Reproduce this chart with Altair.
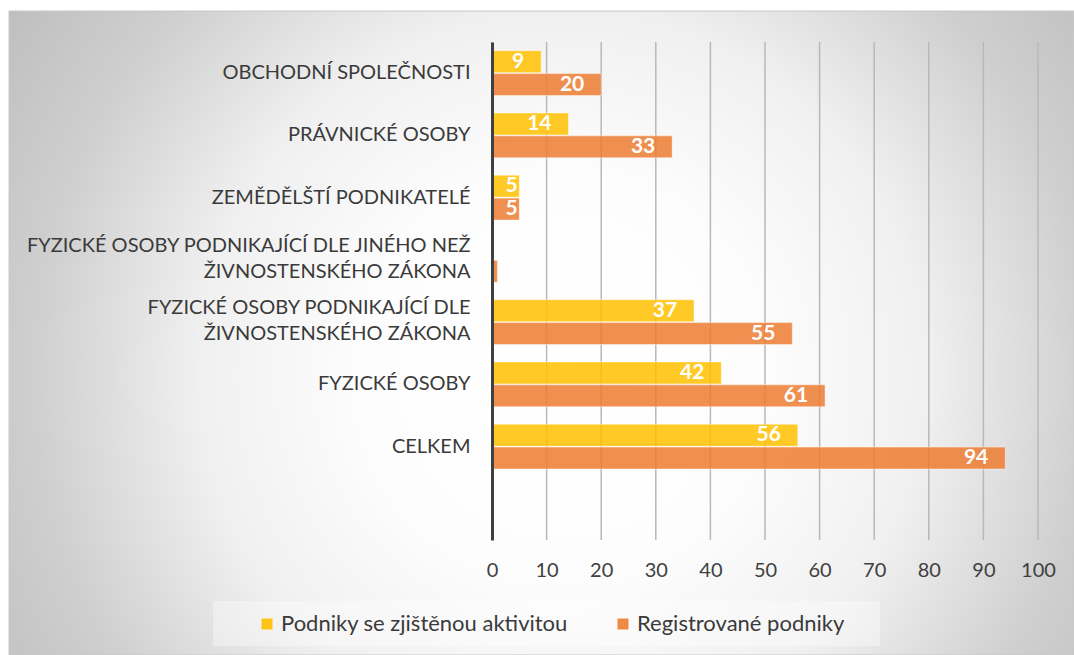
import altair as alt
import pandas as pd

# ---------------- data ----------------
categories = [
    "OBCHODNÍ SPOLEČNOSTI",
    "PRÁVNICKÉ OSOBY",
    "ZEMĚDĚLŠTÍ PODNIKATELÉ",
    "FYZICKÉ OSOBY PODNIKAJÍCÍ DLE JINÉHO NEŽ\nŽIVNOSTENSKÉHO ZÁKONA",
    "FYZICKÉ OSOBY PODNIKAJÍCÍ DLE\nŽIVNOSTENSKÉHO ZÁKONA",
    "FYZICKÉ OSOBY",
    "CELKEM",
]
series_names = ["Podniky se zjištěnou aktivitou", "Registrované podniky"]
active = [9, 14, 5, 0, 37, 42, 56]
registered = [20, 33, 5, 1, 55, 61, 94]
x_ticks = [0, 10, 20, 30, 40, 50, 60, 70, 80, 90, 100]
colors = ["#FFC000", "#ED7D31"]

rows = []
for c, a, r in zip(categories, active, registered):
    rows.append({"cat": c, "series": series_names[0], "value": a})
    rows.append({"cat": c, "series": series_names[1], "value": r})
df = pd.DataFrame(rows)
grid_df = pd.DataFrame({"value": x_ticks})
one = pd.DataFrame({"k": [0]})

y_domain = categories + [" "]
FONT = "Lato"
W, H = 546, 498

x_enc = alt.X(
    "value:Q",
    scale=alt.Scale(domain=[0, 100], nice=False),
    axis=alt.Axis(
        values=x_ticks, title=None, grid=False, domain=False, ticks=False,
        tickSize=0, labelPadding=20, labelFontSize=20, labelColor="#404040",
        labelFont=FONT, zindex=1, labelFlush=False, labelOverlap=False,
    ),
)
y_enc = alt.Y(
    "cat:N",
    sort=y_domain,
    scale=alt.Scale(domain=y_domain, paddingInner=0.28, paddingOuter=0.14),
    axis=alt.Axis(
        title=None, ticks=False, tickSize=0, grid=False, domainColor="#404040",
        domainWidth=3, labelPadding=22, labelFontSize=20, labelColor="#3A3A3A",
        labelFont=FONT, labelLimit=600, labelLineHeight=26,
        labelExpr="split(datum.label, '\\n')", zindex=1,
        labelOffset={
            "condition": {"test": "indexof(datum.value, '\\n') >= 0", "value": -14},
            "value": 0,
        },
    ),
)
yoff_enc = alt.YOffset("series:N", scale=alt.Scale(domain=series_names, paddingInner=0.04))

bg_fill = {
    "gradient": "radial",
    "x1": 0.52, "y1": 0.54, "r1": 0,
    "x2": 0.52, "y2": 0.54, "r2": 0.62,
    "stops": [
        {"offset": 0.0, "color": "#FFFFFF"},
        {"offset": 0.3, "color": "#FDFDFD"},
        {"offset": 0.55, "color": "#F0F0F0"},
        {"offset": 0.8, "color": "#CFCFCF"},
        {"offset": 1.0, "color": "#BFBFBF"},
    ],
}

background = alt.Chart(one).mark_rect(
    fill=bg_fill, stroke="#C8C8C8", strokeWidth=1
).encode(
    x=alt.value(-483), x2=alt.value(582), y=alt.value(-31), y2=alt.value(613)
)

legend_box = alt.Chart(one).mark_rect(fill="#FFFFFF", opacity=0.35).encode(
    x=alt.value(-279), x2=alt.value(388), y=alt.value(559), y2=alt.value(604)
)

grid = alt.Chart(grid_df).mark_rule(color="#B8B8B8", strokeWidth=1.5).encode(
    x=x_enc, y=alt.value(0), y2=alt.value(H)
)

bars = alt.Chart(df).mark_bar(
    fillOpacity=0.85, stroke="#FFFFFF", strokeOpacity=0.45, strokeWidth=1
).encode(
    x=x_enc,
    y=y_enc,
    yOffset=yoff_enc,
    color=alt.Color(
        "series:N",
        scale=alt.Scale(domain=series_names, range=colors),
        legend=alt.Legend(
            title=None, orient="none", legendX=-236, legendY=571,
            direction="horizontal", symbolType="square", symbolSize=121,
            symbolStrokeWidth=0, symbolOpacity=0.9, labelFont=FONT,
            labelFontSize=22, labelColor="#3A3A3A", labelOffset=3,
            columnPadding=44, padding=0, zindex=1, labelLimit=400,
        ),
    ),
)

labels = alt.Chart(df).transform_filter(
    "datum.value >= 2"
).transform_calculate(
    lx="datum.value < 8 ? datum.value - 0.3 : datum.value - 3.1"
).mark_text(
    align="right", baseline="middle", color="#FFFFFF", fontWeight="bold",
    fontSize=21, font=FONT
).encode(
    x=alt.X("lx:Q"),
    y=alt.Y("cat:N", sort=y_domain),
    yOffset=alt.YOffset("series:N"),
    text=alt.Text("value:Q"),
)

chart = alt.layer(background, legend_box, grid, bars, labels).properties(
    width=W, height=H,
    autosize=alt.AutoSizeParams(type="none"),
    padding={"left": 492, "top": 42, "right": 36, "bottom": 115},
).configure_view(stroke=None).configure(background="#FFFFFF")

chart.save("out.html", embed_options={"renderer": "svg", "actions": False})
